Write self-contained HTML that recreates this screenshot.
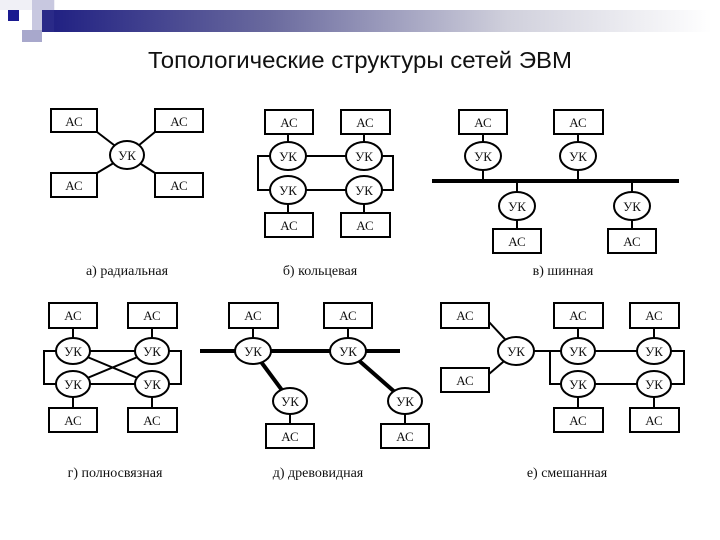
<!DOCTYPE html>
<html><head><meta charset="utf-8"><style>
html,body{margin:0;padding:0;background:#fff;}
svg{display:block;}
</style></head><body>
<svg width="720" height="540" viewBox="0 0 720 540" xmlns="http://www.w3.org/2000/svg">
<defs>
<linearGradient id="g" x1="0" x2="1" y1="0" y2="0">
<stop offset="0" stop-color="#1a1a80"/><stop offset="0.35" stop-color="#6a6a9e"/><stop offset="0.7" stop-color="#d0d0dc"/><stop offset="1" stop-color="#ffffff"/>
</linearGradient>
</defs>
<rect x="32" y="10" width="680" height="22" fill="url(#g)"/>
<rect x="0" y="0" width="55" height="10" fill="#f0f0f6"/>
<rect x="32" y="0" width="22" height="32" fill="#c8c8e0"/>
<rect x="42" y="10" width="12" height="22" fill="#2a2a88"/>
<rect x="8" y="10" width="11" height="11" fill="#1a1a90"/>
<rect x="22" y="30" width="20" height="12" fill="#a8a8cc"/>
<text x="360" y="68" text-anchor="middle" font-family="Liberation Sans, sans-serif" font-size="23" fill="#111" textLength="424" lengthAdjust="spacingAndGlyphs">Топологические структуры сетей ЭВМ</text>

<g stroke="#000" stroke-width="2" fill="#fff" font-family="Liberation Serif, serif" font-size="13">
<!-- a -->
<line x1="97" y1="132" x2="127" y2="155"/><line x1="155" y1="132" x2="127" y2="155"/>
<line x1="97" y1="173" x2="127" y2="155"/><line x1="155" y1="173" x2="127" y2="155"/>
<rect x="51" y="109" width="46" height="23"/><rect x="155" y="109" width="48" height="23"/>
<rect x="51" y="173" width="46" height="24"/><rect x="155" y="173" width="48" height="24"/>
<ellipse cx="127" cy="155" rx="17" ry="14"/>

<!-- б -->
<polyline fill="none" points="271,156 258,156 258,190 271,190"/>
<polyline fill="none" points="381,156 393,156 393,190 381,190"/>
<line x1="288" y1="156" x2="364" y2="156"/><line x1="288" y1="190" x2="364" y2="190"/>
<line x1="288" y1="134" x2="288" y2="142"/><line x1="364" y1="134" x2="364" y2="142"/>
<line x1="288" y1="204" x2="288" y2="213"/><line x1="364" y1="204" x2="364" y2="213"/>
<rect x="265" y="110" width="48" height="24"/><rect x="341" y="110" width="49" height="24"/>
<rect x="265" y="213" width="48" height="24"/><rect x="341" y="213" width="49" height="24"/>
<ellipse cx="288" cy="156" rx="18" ry="14"/><ellipse cx="364" cy="156" rx="18" ry="14"/>
<ellipse cx="288" cy="190" rx="18" ry="14"/><ellipse cx="364" cy="190" rx="18" ry="14"/>

<!-- в -->
<line x1="432" y1="181" x2="679" y2="181" stroke-width="4"/>
<line x1="483" y1="134" x2="483" y2="181"/><line x1="578" y1="134" x2="578" y2="181"/>
<line x1="517" y1="181" x2="517" y2="229"/><line x1="632" y1="181" x2="632" y2="229"/>
<rect x="459" y="110" width="48" height="24"/><rect x="554" y="110" width="49" height="24"/>
<rect x="493" y="229" width="48" height="24"/><rect x="608" y="229" width="48" height="24"/>
<ellipse cx="483" cy="156" rx="18" ry="14"/><ellipse cx="578" cy="156" rx="18" ry="14"/>
<ellipse cx="517" cy="206" rx="18" ry="14"/><ellipse cx="632" cy="206" rx="18" ry="14"/>

<!-- г -->
<polyline fill="none" points="56,351 44,351 44,384 56,384"/>
<polyline fill="none" points="169,351 181,351 181,384 169,384"/>
<line x1="73" y1="351" x2="152" y2="351"/><line x1="73" y1="384" x2="152" y2="384"/>
<line x1="73" y1="351" x2="152" y2="384"/><line x1="152" y1="351" x2="73" y2="384"/>
<line x1="73" y1="328" x2="73" y2="340"/><line x1="152" y1="328" x2="152" y2="340"/>
<line x1="73" y1="396" x2="73" y2="408"/><line x1="152" y1="396" x2="152" y2="408"/>
<rect x="49" y="303" width="48" height="25"/><rect x="128" y="303" width="49" height="25"/>
<rect x="49" y="408" width="48" height="24"/><rect x="128" y="408" width="49" height="24"/>
<ellipse cx="73" cy="351" rx="17" ry="13"/><ellipse cx="152" cy="351" rx="17" ry="13"/>
<ellipse cx="73" cy="384" rx="17" ry="13"/><ellipse cx="152" cy="384" rx="17" ry="13"/>

<!-- д -->
<line x1="200" y1="351" x2="400" y2="351" stroke-width="4"/>
<line x1="253" y1="351" x2="290" y2="401" stroke-width="4"/>
<line x1="348" y1="351" x2="405" y2="401" stroke-width="4"/>
<line x1="253" y1="328" x2="253" y2="340"/><line x1="348" y1="328" x2="348" y2="340"/>
<line x1="290" y1="412" x2="290" y2="424"/><line x1="405" y1="412" x2="405" y2="424"/>
<rect x="229" y="303" width="49" height="25"/><rect x="324" y="303" width="48" height="25"/>
<rect x="266" y="424" width="48" height="24"/><rect x="381" y="424" width="48" height="24"/>
<ellipse cx="253" cy="351" rx="18" ry="13"/><ellipse cx="348" cy="351" rx="18" ry="13"/>
<ellipse cx="290" cy="401" rx="17" ry="13"/><ellipse cx="405" cy="401" rx="17" ry="13"/>

<!-- е -->
<line x1="489" y1="322" x2="516" y2="351"/><line x1="489" y1="374" x2="516" y2="351"/>
<line x1="516" y1="351" x2="578" y2="351"/>
<polyline fill="none" points="550,351 550,384 561,384"/>
<polyline fill="none" points="671,351 684,351 684,384 671,384"/>
<line x1="578" y1="351" x2="654" y2="351"/><line x1="578" y1="384" x2="654" y2="384"/>
<line x1="578" y1="328" x2="578" y2="338"/><line x1="654" y1="328" x2="654" y2="338"/>
<line x1="578" y1="397" x2="578" y2="408"/><line x1="654" y1="397" x2="654" y2="408"/>
<rect x="441" y="303" width="48" height="25"/><rect x="441" y="368" width="48" height="24"/>
<rect x="554" y="303" width="49" height="25"/><rect x="630" y="303" width="49" height="25"/>
<rect x="554" y="408" width="49" height="24"/><rect x="630" y="408" width="49" height="24"/>
<ellipse cx="516" cy="351" rx="18" ry="14"/>
<ellipse cx="578" cy="351" rx="17" ry="13"/><ellipse cx="654" cy="351" rx="17" ry="13"/>
<ellipse cx="578" cy="384" rx="17" ry="13"/><ellipse cx="654" cy="384" rx="17" ry="13"/>
</g>

<g font-family="Liberation Serif, serif" font-size="13" fill="#111" text-anchor="middle">
<text x="74" y="126">АС</text><text x="179" y="126">АС</text><text x="74" y="190">АС</text><text x="179" y="190">АС</text>
<text x="127" y="160">УК</text>
<text x="289" y="127">АС</text><text x="365" y="127">АС</text><text x="289" y="230">АС</text><text x="365" y="230">АС</text>
<text x="288" y="161">УК</text><text x="364" y="161">УК</text><text x="288" y="195">УК</text><text x="364" y="195">УК</text>
<text x="483" y="127">АС</text><text x="578" y="127">АС</text><text x="517" y="246">АС</text><text x="632" y="246">АС</text>
<text x="483" y="161">УК</text><text x="578" y="161">УК</text><text x="517" y="211">УК</text><text x="632" y="211">УК</text>
<text x="73" y="320">АС</text><text x="152" y="320">АС</text><text x="73" y="425">АС</text><text x="152" y="425">АС</text>
<text x="73" y="356">УК</text><text x="152" y="356">УК</text><text x="73" y="389">УК</text><text x="152" y="389">УК</text>
<text x="253" y="320">АС</text><text x="348" y="320">АС</text><text x="290" y="441">АС</text><text x="405" y="441">АС</text>
<text x="253" y="356">УК</text><text x="348" y="356">УК</text><text x="290" y="406">УК</text><text x="405" y="406">УК</text>
<text x="465" y="320">АС</text><text x="465" y="385">АС</text><text x="578" y="320">АС</text><text x="654" y="320">АС</text>
<text x="578" y="425">АС</text><text x="654" y="425">АС</text>
<text x="516" y="356">УК</text><text x="578" y="356">УК</text><text x="654" y="356">УК</text><text x="578" y="389">УК</text><text x="654" y="389">УК</text>

<g font-size="14">
<text x="127" y="275">а) радиальная</text>
<text x="320" y="275">б) кольцевая</text>
<text x="563" y="275">в) шинная</text>
<text x="115" y="477">г) полносвязная</text>
<text x="318" y="477">д) древовидная</text>
<text x="567" y="477">е) смешанная</text>
</g>
</g>
</svg>
</body></html>
